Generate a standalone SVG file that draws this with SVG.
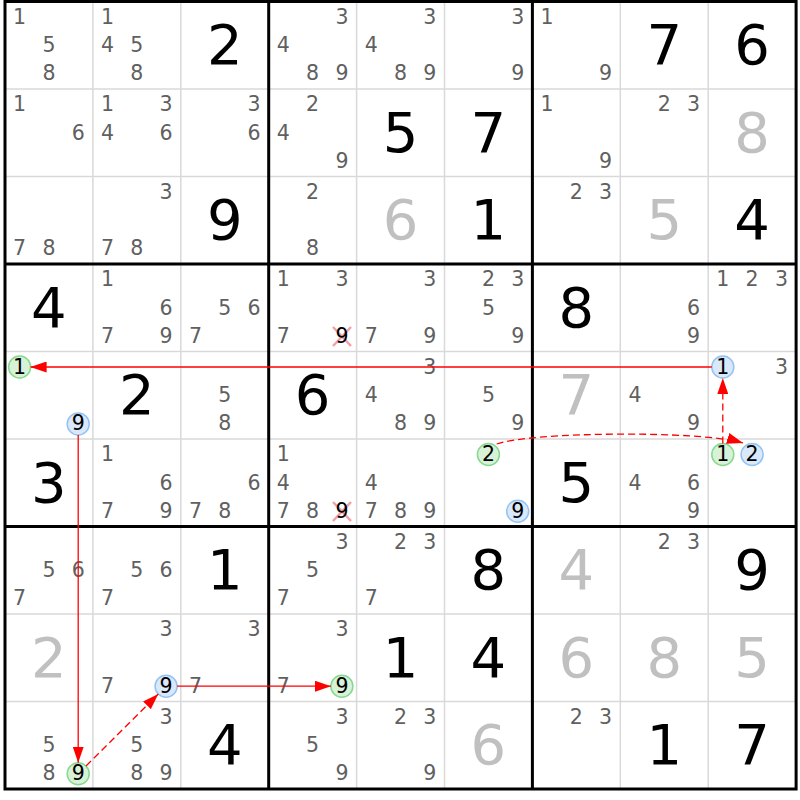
<svg xmlns="http://www.w3.org/2000/svg" width="800" height="800" viewBox="0 0 800 800">
<style>
.thin{stroke:#d9d9d9;stroke-width:1.5}
.thick{stroke:#000;stroke-width:3;fill:none}
.c{font-family:"DejaVu Sans",Verdana,sans-serif;font-size:20.5px;fill:#606060;text-anchor:middle}
.h{fill:#000}
.g{font-family:"DejaVu Sans",Verdana,sans-serif;font-size:56px;fill:#000;text-anchor:middle}
.s{fill:#c0c0c0}
.cg{fill:#d7f2d7;stroke:#86d98e;stroke-width:1.5}
.cb{fill:#d9e9fb;stroke:#94c3f2;stroke-width:1.5}
.x{stroke:#f2a0a8;stroke-width:2.5}
.ln{stroke:#f00;stroke-width:1.3;fill:none}
.dash{stroke-dasharray:7 4}
</style>
<defs>
<marker id="ah" markerUnits="userSpaceOnUse" markerWidth="16" markerHeight="11" viewBox="0 0 16 11" refX="16" refY="5.5" orient="auto">
<path d="M0,0 L16,5.5 L0,11 z" fill="#f00"/>
</marker>
</defs>
<rect x="0" y="0" width="800" height="800" fill="#fff"/>
<g id="grid">
<path class="thin" d="M92.9,1.5V789M180.8,1.5V789M356.6,1.5V789M444.5,1.5V789M620.3,1.5V789M708.2,1.5V789M5,89H796.1M5,176.5H796.1M5,351.5H796.1M5,439H796.1M5,614H796.1M5,701.5H796.1"/>
<path class="thick" d="M268.7,1.5V789M532.4,1.5V789M5,264H796.1M5,526.5H796.1"/>
<rect class="thick" x="5" y="1.5" width="791.1" height="787.5"/>
</g>
<g id="cells">
<g id="r0c0"><text class="c" x="19.6" y="23.5">1</text><text class="c" x="48.9" y="52">5</text><text class="c" x="48.9" y="80.2">8</text></g>
<g id="r0c1"><text class="c" x="107.5" y="23.5">1</text><text class="c" x="107.5" y="52">4</text><text class="c" x="136.8" y="52">5</text><text class="c" x="136.8" y="80.2">8</text></g>
<g id="r0c2"><text class="g" x="224.7" y="64.25">2</text></g>
<g id="r0c3"><text class="c" x="341.9" y="23.5">3</text><text class="c" x="283.3" y="52">4</text><text class="c" x="312.6" y="80.2">8</text><text class="c" x="341.9" y="80.2">9</text></g>
<g id="r0c4"><text class="c" x="429.8" y="23.5">3</text><text class="c" x="371.2" y="52">4</text><text class="c" x="400.5" y="80.2">8</text><text class="c" x="429.8" y="80.2">9</text></g>
<g id="r0c5"><text class="c" x="517.7" y="23.5">3</text><text class="c" x="517.7" y="80.2">9</text></g>
<g id="r0c6"><text class="c" x="547" y="23.5">1</text><text class="c" x="605.6" y="80.2">9</text></g>
<g id="r0c7"><text class="g" x="664.2" y="64.25">7</text></g>
<g id="r0c8"><text class="g" x="752.1" y="64.25">6</text></g>

<g id="r1c0"><text class="c" x="19.6" y="111">1</text><text class="c" x="78.2" y="139.5">6</text></g>
<g id="r1c1"><text class="c" x="107.5" y="111">1</text><text class="c" x="166.1" y="111">3</text><text class="c" x="107.5" y="139.5">4</text><text class="c" x="166.1" y="139.5">6</text></g>
<g id="r1c2"><text class="c" x="254" y="111">3</text><text class="c" x="254" y="139.5">6</text></g>
<g id="r1c3"><text class="c" x="312.6" y="111">2</text><text class="c" x="283.3" y="139.5">4</text><text class="c" x="341.9" y="167.7">9</text></g>
<g id="r1c4"><text class="g" x="400.5" y="151.75">5</text></g>
<g id="r1c5"><text class="g" x="488.4" y="151.75">7</text></g>
<g id="r1c6"><text class="c" x="547" y="111">1</text><text class="c" x="605.6" y="167.7">9</text></g>
<g id="r1c7"><text class="c" x="664.2" y="111">2</text><text class="c" x="693.5" y="111">3</text></g>
<g id="r1c8"><text class="g s" x="752.1" y="151.75">8</text></g>

<g id="r2c0"><text class="c" x="19.6" y="255.2">7</text><text class="c" x="48.9" y="255.2">8</text></g>
<g id="r2c1"><text class="c" x="166.1" y="198.5">3</text><text class="c" x="107.5" y="255.2">7</text><text class="c" x="136.8" y="255.2">8</text></g>
<g id="r2c2"><text class="g" x="224.7" y="239.25">9</text></g>
<g id="r2c3"><text class="c" x="312.6" y="198.5">2</text><text class="c" x="312.6" y="255.2">8</text></g>
<g id="r2c4"><text class="g s" x="400.5" y="239.25">6</text></g>
<g id="r2c5"><text class="g" x="488.4" y="239.25">1</text></g>
<g id="r2c6"><text class="c" x="576.3" y="198.5">2</text><text class="c" x="605.6" y="198.5">3</text></g>
<g id="r2c7"><text class="g s" x="664.2" y="239.25">5</text></g>
<g id="r2c8"><text class="g" x="752.1" y="239.25">4</text></g>

<g id="r3c0"><text class="g" x="48.9" y="326.75">4</text></g>
<g id="r3c1"><text class="c" x="107.5" y="286">1</text><text class="c" x="166.1" y="314.5">6</text><text class="c" x="107.5" y="342.7">7</text><text class="c" x="166.1" y="342.7">9</text></g>
<g id="r3c2"><text class="c" x="224.7" y="314.5">5</text><text class="c" x="254" y="314.5">6</text><text class="c" x="195.4" y="342.7">7</text></g>
<g id="r3c3"><text class="c" x="283.3" y="286">1</text><text class="c" x="341.9" y="286">3</text><text class="c" x="283.3" y="342.7">7</text><path class="x" d="M333,327L351,346M351,327L333,346"/><text class="c h" x="341.9" y="342.7">9</text></g>
<g id="r3c4"><text class="c" x="429.8" y="286">3</text><text class="c" x="371.2" y="342.7">7</text><text class="c" x="429.8" y="342.7">9</text></g>
<g id="r3c5"><text class="c" x="488.4" y="286">2</text><text class="c" x="517.7" y="286">3</text><text class="c" x="488.4" y="314.5">5</text><text class="c" x="517.7" y="342.7">9</text></g>
<g id="r3c6"><text class="g" x="576.3" y="326.75">8</text></g>
<g id="r3c7"><text class="c" x="693.5" y="314.5">6</text><text class="c" x="693.5" y="342.7">9</text></g>
<g id="r3c8"><text class="c" x="722.8" y="286">1</text><text class="c" x="752.1" y="286">2</text><text class="c" x="781.4" y="286">3</text></g>

<g id="r4c0"><circle class="cg" cx="19.6" cy="367" r="11"/><text class="c h" x="19.6" y="373.5">1</text><circle class="cb" cx="78.2" cy="424" r="11"/><text class="c h" x="78.2" y="430.2">9</text></g>
<g id="r4c1"><text class="g" x="136.8" y="414.25">2</text></g>
<g id="r4c2"><text class="c" x="224.7" y="402">5</text><text class="c" x="224.7" y="430.2">8</text></g>
<g id="r4c3"><text class="g" x="312.6" y="414.25">6</text></g>
<g id="r4c4"><text class="c" x="429.8" y="373.5">3</text><text class="c" x="371.2" y="402">4</text><text class="c" x="400.5" y="430.2">8</text><text class="c" x="429.8" y="430.2">9</text></g>
<g id="r4c5"><text class="c" x="488.4" y="402">5</text><text class="c" x="517.7" y="430.2">9</text></g>
<g id="r4c6"><text class="g s" x="576.3" y="414.25">7</text></g>
<g id="r4c7"><text class="c" x="634.9" y="402">4</text><text class="c" x="693.5" y="430.2">9</text></g>
<g id="r4c8"><circle class="cb" cx="722.8" cy="367" r="11"/><text class="c h" x="722.8" y="373.5">1</text><text class="c" x="781.4" y="373.5">3</text></g>

<g id="r5c0"><text class="g" x="48.9" y="501.75">3</text></g>
<g id="r5c1"><text class="c" x="107.5" y="461">1</text><text class="c" x="166.1" y="489.5">6</text><text class="c" x="107.5" y="517.7">7</text><text class="c" x="166.1" y="517.7">9</text></g>
<g id="r5c2"><text class="c" x="254" y="489.5">6</text><text class="c" x="195.4" y="517.7">7</text><text class="c" x="224.7" y="517.7">8</text></g>
<g id="r5c3"><text class="c" x="283.3" y="461">1</text><text class="c" x="283.3" y="489.5">4</text><text class="c" x="283.3" y="517.7">7</text><text class="c" x="312.6" y="517.7">8</text><path class="x" d="M333,502L351,521M351,502L333,521"/><text class="c h" x="341.9" y="517.7">9</text></g>
<g id="r5c4"><text class="c" x="371.2" y="489.5">4</text><text class="c" x="371.2" y="517.7">7</text><text class="c" x="400.5" y="517.7">8</text><text class="c" x="429.8" y="517.7">9</text></g>
<g id="r5c5"><circle class="cg" cx="488.4" cy="454.5" r="11"/><text class="c h" x="488.4" y="461">2</text><circle class="cb" cx="517.7" cy="511.2" r="11"/><text class="c h" x="517.7" y="517.7">9</text></g>
<g id="r5c6"><text class="g" x="576.3" y="501.75">5</text></g>
<g id="r5c7"><text class="c" x="634.9" y="489.5">4</text><text class="c" x="693.5" y="489.5">6</text><text class="c" x="693.5" y="517.7">9</text></g>
<g id="r5c8"><circle class="cg" cx="722.8" cy="454.5" r="11"/><text class="c h" x="722.8" y="461">1</text><circle class="cb" cx="752.1" cy="454.5" r="11"/><text class="c h" x="752.1" y="461">2</text></g>

<g id="r6c0"><text class="c" x="48.9" y="577">5</text><text class="c" x="78.2" y="577">6</text><text class="c" x="19.6" y="605.2">7</text></g>
<g id="r6c1"><text class="c" x="136.8" y="577">5</text><text class="c" x="166.1" y="577">6</text><text class="c" x="107.5" y="605.2">7</text></g>
<g id="r6c2"><text class="g" x="224.7" y="589.25">1</text></g>
<g id="r6c3"><text class="c" x="341.9" y="548.5">3</text><text class="c" x="312.6" y="577">5</text><text class="c" x="283.3" y="605.2">7</text></g>
<g id="r6c4"><text class="c" x="400.5" y="548.5">2</text><text class="c" x="429.8" y="548.5">3</text><text class="c" x="371.2" y="605.2">7</text></g>
<g id="r6c5"><text class="g" x="488.4" y="589.25">8</text></g>
<g id="r6c6"><text class="g s" x="576.3" y="589.25">4</text></g>
<g id="r6c7"><text class="c" x="664.2" y="548.5">2</text><text class="c" x="693.5" y="548.5">3</text></g>
<g id="r6c8"><text class="g" x="752.1" y="589.25">9</text></g>

<g id="r7c0"><text class="g s" x="48.9" y="676.75">2</text></g>
<g id="r7c1"><text class="c" x="166.1" y="636">3</text><text class="c" x="107.5" y="692.7">7</text><circle class="cb" cx="166.1" cy="686.2" r="11"/><text class="c h" x="166.1" y="692.7">9</text></g>
<g id="r7c2"><text class="c" x="254" y="636">3</text><text class="c" x="195.4" y="692.7">7</text></g>
<g id="r7c3"><text class="c" x="341.9" y="636">3</text><text class="c" x="283.3" y="692.7">7</text><circle class="cg" cx="341.9" cy="686.2" r="11"/><text class="c h" x="341.9" y="692.7">9</text></g>
<g id="r7c4"><text class="g" x="400.5" y="676.75">1</text></g>
<g id="r7c5"><text class="g" x="488.4" y="676.75">4</text></g>
<g id="r7c6"><text class="g s" x="576.3" y="676.75">6</text></g>
<g id="r7c7"><text class="g s" x="664.2" y="676.75">8</text></g>
<g id="r7c8"><text class="g s" x="752.1" y="676.75">5</text></g>

<g id="r8c0"><text class="c" x="48.9" y="752">5</text><text class="c" x="48.9" y="780.2">8</text><circle class="cg" cx="78.2" cy="773.7" r="11"/><text class="c h" x="78.2" y="780.2">9</text></g>
<g id="r8c1"><text class="c" x="166.1" y="723.5">3</text><text class="c" x="136.8" y="752">5</text><text class="c" x="136.8" y="780.2">8</text><text class="c" x="166.1" y="780.2">9</text></g>
<g id="r8c2"><text class="g" x="224.7" y="764.25">4</text></g>
<g id="r8c3"><text class="c" x="341.9" y="723.5">3</text><text class="c" x="312.6" y="752">5</text><text class="c" x="341.9" y="780.2">9</text></g>
<g id="r8c4"><text class="c" x="400.5" y="723.5">2</text><text class="c" x="429.8" y="723.5">3</text><text class="c" x="429.8" y="780.2">9</text></g>
<g id="r8c5"><text class="g s" x="488.4" y="764.25">6</text></g>
<g id="r8c6"><text class="c" x="576.3" y="723.5">2</text><text class="c" x="605.6" y="723.5">3</text></g>
<g id="r8c7"><text class="g" x="664.2" y="764.25">1</text></g>
<g id="r8c8"><text class="g" x="752.1" y="764.25">7</text></g>
</g>
<g id="connectors">
<line class="ln" x1="711.8" y1="367" x2="30.6" y2="367" marker-end="url(#ah)"/>
<line class="ln" x1="78.2" y1="435" x2="78.2" y2="762.7" marker-end="url(#ah)"/>
<line class="ln dash" x1="86" y1="766" x2="158.3" y2="694" marker-end="url(#ah)"/>
<line class="ln" x1="177.1" y1="686.2" x2="330.9" y2="686.2" marker-end="url(#ah)"/>
<path class="ln dash" d="M496.7,444 C530,432 700,430 743,443" marker-end="url(#ah)"/>
<line class="ln dash" x1="722.8" y1="443.5" x2="722.8" y2="378" marker-end="url(#ah)"/>
</g>
</svg>
